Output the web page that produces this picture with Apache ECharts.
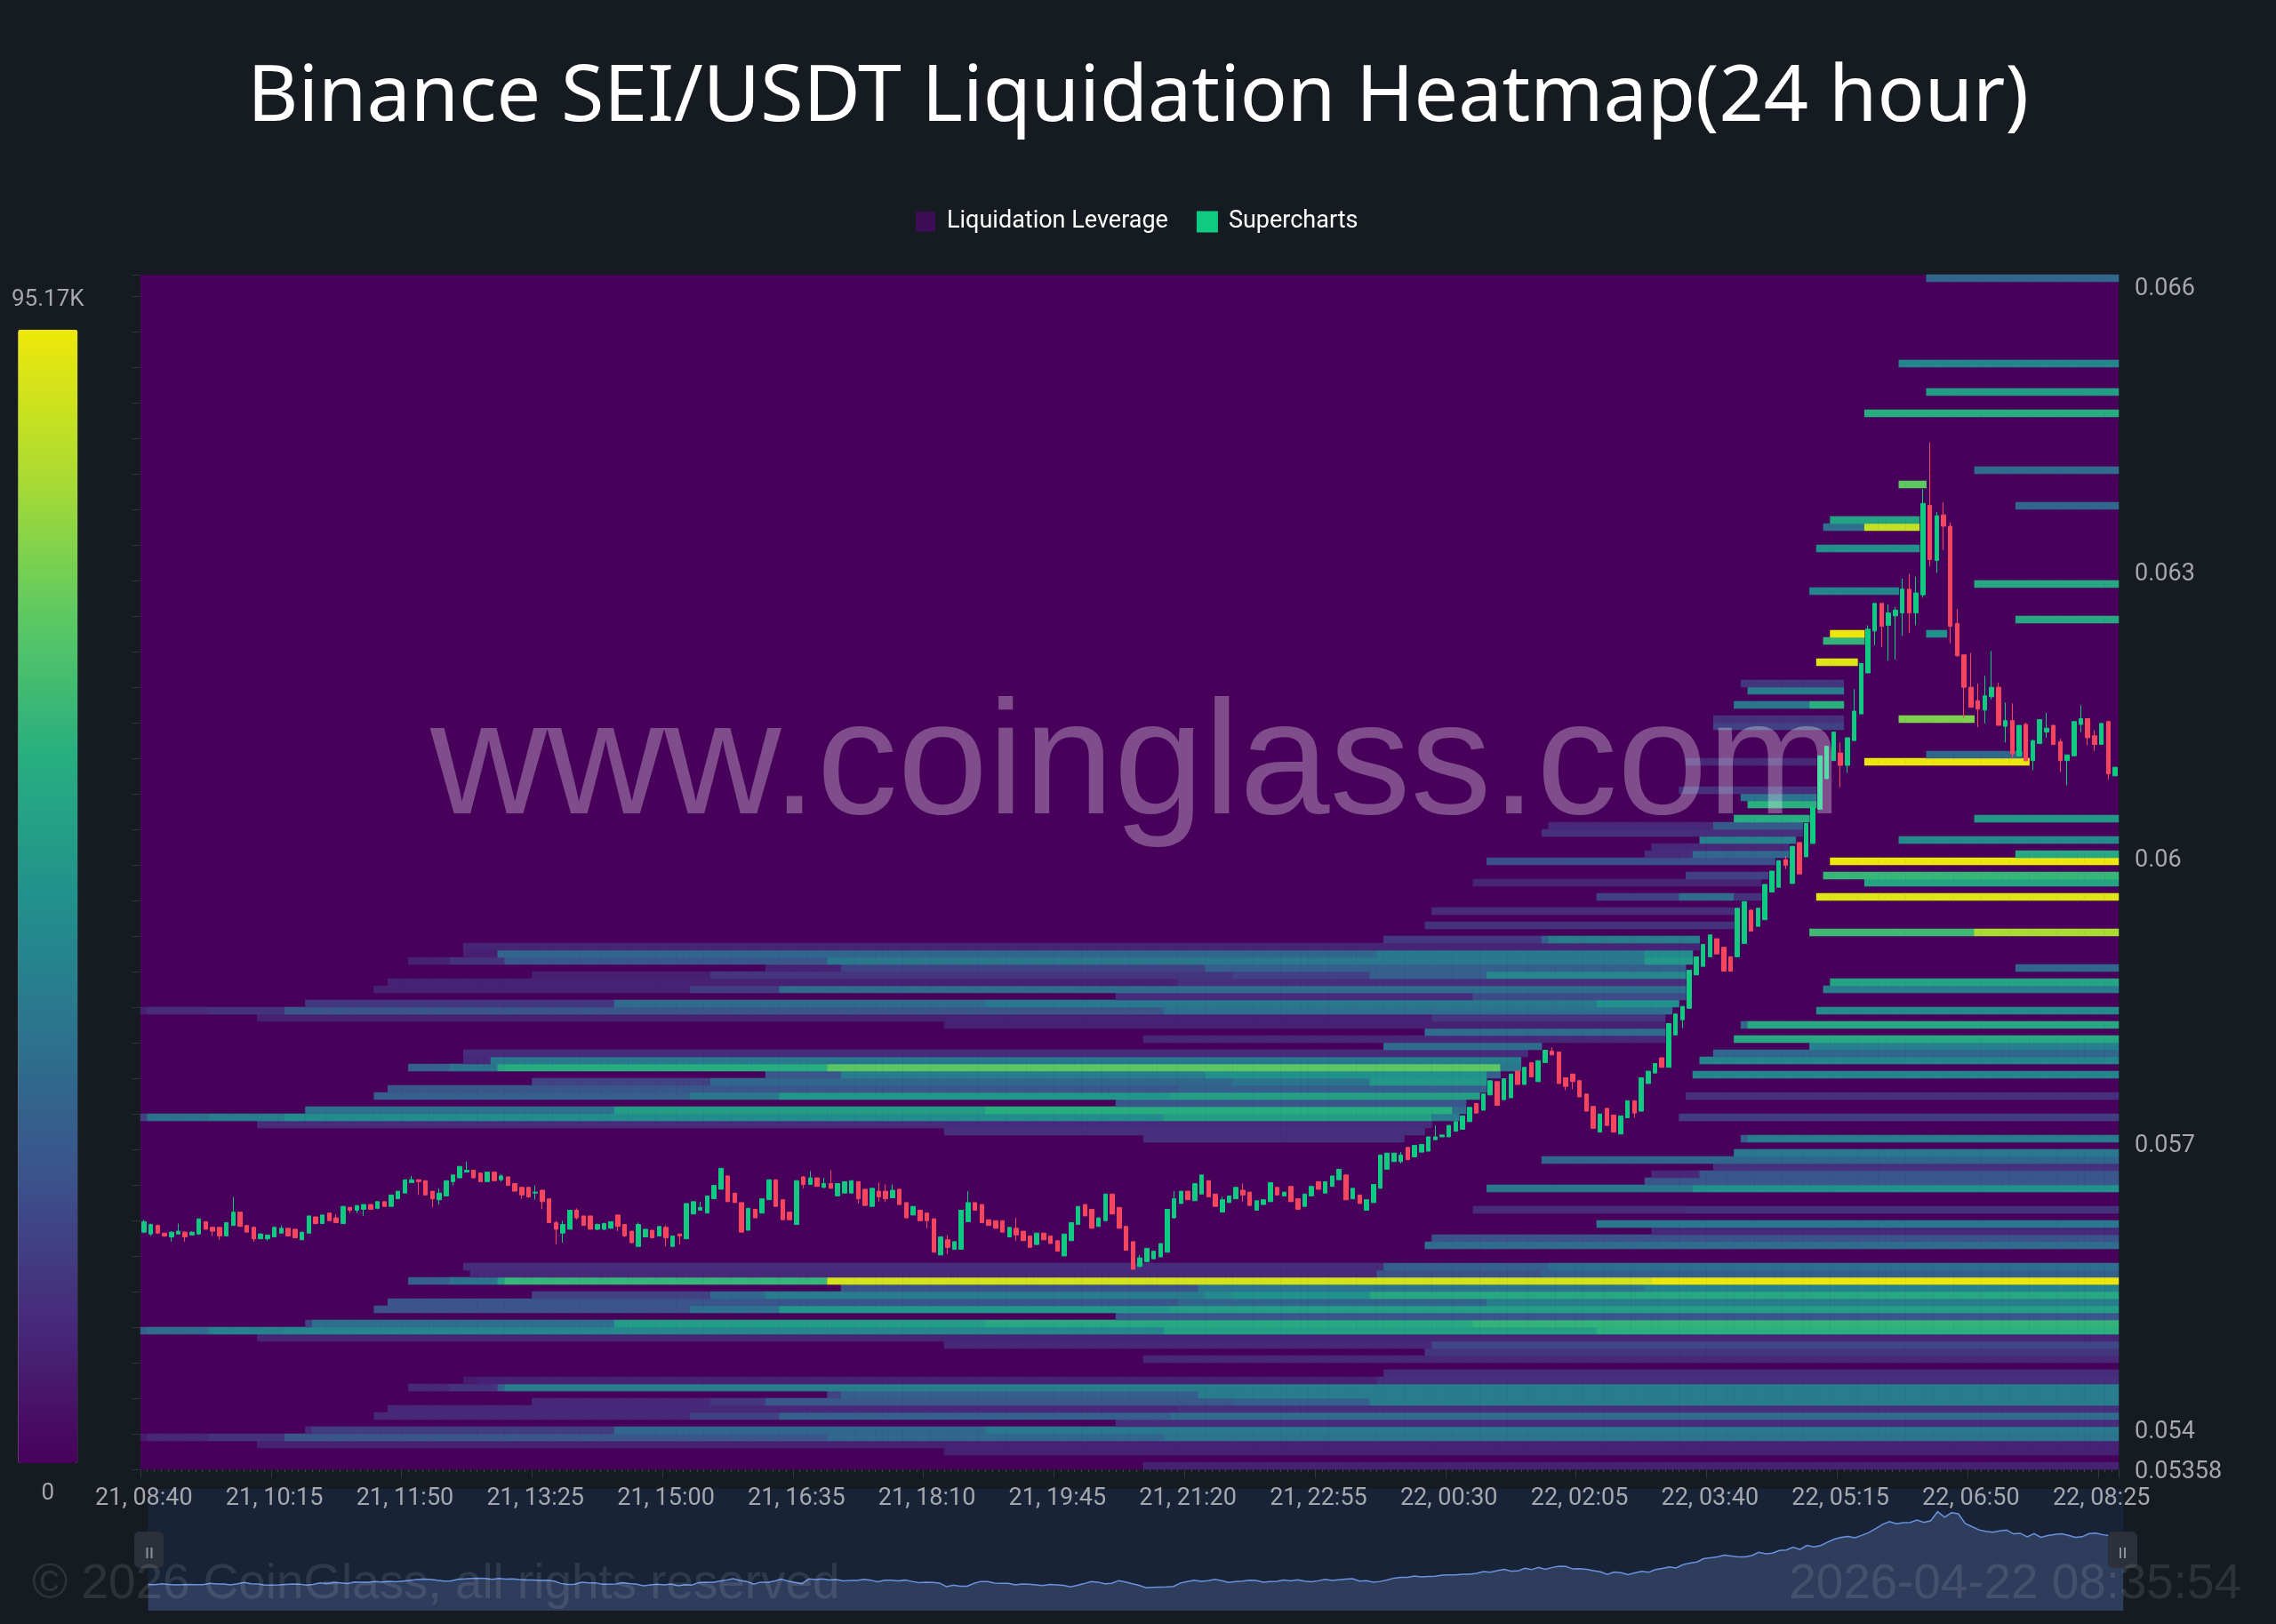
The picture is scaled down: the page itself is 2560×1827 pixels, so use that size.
<!DOCTYPE html>
<html>
<head>
<meta charset="utf-8">
<style>html,body{margin:0;padding:0;background:#161b22}#container{width:2560px;height:1827px}</style>
<script src="https://cdn.jsdelivr.net/npm/echarts@6/dist/echarts.min.js"></script>
</head>
<body>
<div id="container"></div>
<script>
const maxK = 95.17;
const priceMin = 0.05358, priceMax = 0.066121, rowCount = 168;
const priceTicks = [0.05358, 0.054, 0.057, 0.06, 0.063, 0.066];

// [row, t0, pct0, t1, pct1, ..., tEnd]  pct = share of maxK, t = 5 min bar index
const heatBands = [
  [0,146,10,288],[2,117,10,288],[3,17,10,288],
  [4,0,8,1,12,10,15,21,27,100,33,149,38,288],
  [5,24,12,25,18,69,33,123,40,288],[6,142,13,288],
  [7,34,12,80,20,93,30,150,35,288],[8,36,12,151,14,288],
  [9,57,12,83,17,91,27,159,30,179,42,288],[10,100,20,102,30,154,42,288],
  [11,39,12,45,15,52,30,53,42,288],[12,47,8,49,10,180,14,288],[13,181,13,288],
  [15,146,12,288],[16,187,16,288],[17,117,12,188,22,288],[18,17,11,288],
  [19,0,30,1,35,10,43,21,46,149,56,212,63,288],
  [20,24,20,25,36,69,55,123,60,194,65,288],[21,142,27,288],
  [22,34,25,80,37,93,52,150,55,288],[23,36,26,151,32,196,42,288],
  [24,57,20,83,33,91,42,155,47,159,50,179,60,288],[25,102,25,154,38,219,44,288],
  [26,39,30,45,38,52,55,53,66,100,95,220,100,288],
  [27,48,12,180,25,204,30,288],[28,47,13,181,30,205,36,288],
  [31,187,35,288],[32,188,25,288],[33,220,12,288],[34,212,40,288],
  [36,194,13,225,15,288],[39,196,40,226,50,288],[40,219,27,288],
  [41,220,12,227,27,288],[42,229,15,288],[43,204,33,288],[44,232,40,288],
  [46,146,14,184],[46,233,30,234,42,288],
  [47,117,14,187],[48,17,13,188],
  [49,0,20,1,38,10,42,21,48,149,56,188,42,192],[49,224,18,288],
  [50,24,37,69,55,123,62,191,35,193],[51,142,27,193],
  [52,34,30,80,40,93,52,150,56,195],[52,225,14,288],
  [53,36,27,151,30,196],[54,57,20,83,33,159,38,179,53,196],
  [55,91,27,102,42,155,50,196,30,198],[55,226,45,288],
  [56,39,30,45,38,52,60,53,62,100,74,198,40,201],
  [57,47,12,51,40,180,42,201],[57,227,45,288],
  [58,47,13,202],[58,229,33,288],[59,181,35,204],[59,243,43,288],
  [60,146,12,222],[60,232,60,288],[61,187,35,222],
  [62,117,10,222],[62,233,33,234,60,288],[63,17,10,188,16,222],
  [64,0,10,1,13,10,15,21,27,149,36,223],[64,244,47,288],
  [65,24,17,69,35,123,40,212,50,224],[66,142,13,194,23,225],
  [67,34,10,80,18,93,35,225],[67,245,42,288],
  [68,36,10,151,14,225],[68,246,58,288],
  [69,57,9,83,16,159,20,179,30,196,46,225],
  [70,91,10,102,20,155,30,225],[70,273,33,288],
  [71,39,10,45,15,53,27,100,40,219,53,226],
  [72,47,9,52,33,180,40,219,48,226],[73,47,11,227],
  [74,181,17,204,30,205,42,227],[75,243,68,267,87,288],
  [76,187,15,232],[78,188,13,232],
  [80,212,20,224,35,232,15,236],[80,244,97,288],
  [82,194,11,236],[82,251,58,288],[83,225,20,237],[83,245,66,288],
  [85,196,24,238],[85,246,100,288],[86,219,13,226,33,240],[86,273,60,288],
  [87,220,12,240],[88,227,43,241],[88,256,47,288],[89,204,14,242],
  [90,205,12,229,28,242],[91,232,62,243],[91,267,53,288],
  [93,234,63,244],[94,233,38,244],[95,224,14,244],
  [99,225,12,244],[99,251,100,275],[100,260,33,274],
  [104,229,20,248],[105,229,14,248],[105,256,80,267],
  [107,232,40,243,63,248],[109,234,42,248],[110,233,16,248],
  [113,244,97,250],[116,245,65,251],[117,246,100,251],[117,260,50,263],
  [119,273,60,288],[123,243,45,256],[124,267,60,288],[129,244,50,259],
  [132,245,37,251,92,259],[133,246,58,259],[135,273,33,288],
  [138,256,75,260],[140,267,35,288],[148,251,62,288],[151,260,55,288],
  [155,256,45,288],[167,260,33,288]
];

// open, close, low, high in 1e-5 USDT
const candleRows = [
[5607,5618,5606,5620],[5605,5615,5603,5616],[5614,5606,5605,5615],[5606,5603,5602,5606],[5602,5607,5597,5608],
[5605,5608,5605,5616],[5607,5602,5597,5608],[5604,5607,5604,5608],[5605,5621,5604,5621],[5618,5610,5610,5618],
[5612,5608,5603,5613],[5612,5603,5599,5612],[5603,5617,5603,5617],[5614,5628,5614,5644],[5628,5613,5613,5628],
[5614,5607,5607,5614],[5612,5600,5597,5613],[5600,5605,5600,5606],[5600,5604,5598,5604],[5602,5612,5602,5613],
[5606,5611,5606,5614],[5611,5603,5603,5611],[5610,5601,5601,5610],[5599,5607,5599,5607],[5606,5624,5606,5624],
[5623,5616,5615,5623],[5616,5625,5616,5625],[5627,5619,5619,5627],[5622,5617,5617,5626],[5616,5634,5616,5634],
[5633,5630,5627,5633],[5630,5635,5627,5635],[5631,5636,5624,5636],[5636,5631,5631,5636],[5632,5639,5631,5639],
[5639,5634,5634,5639],[5634,5646,5634,5646],[5642,5650,5642,5650],[5648,5662,5648,5662],[5659,5662,5659,5666],
[5662,5660,5646,5662],[5661,5646,5646,5661],[5650,5642,5633,5650],[5641,5648,5636,5653],[5645,5661,5645,5661],
[5660,5667,5656,5667],[5664,5676,5664,5676],[5670,5672,5670,5681],[5672,5664,5664,5672],[5669,5660,5660,5669],
[5660,5670,5660,5670],[5670,5661,5661,5670],[5662,5666,5660,5668],[5665,5656,5656,5665],[5658,5650,5650,5658],
[5654,5646,5642,5654],[5654,5644,5643,5654],[5648,5649,5641,5656],[5651,5639,5631,5651],[5642,5617,5617,5642],
[5617,5610,5594,5619],[5606,5615,5596,5619],[5610,5630,5610,5630],[5630,5622,5620,5632],[5624,5614,5614,5624],
[5624,5610,5610,5624],[5610,5615,5609,5616],[5610,5616,5609,5617],[5611,5618,5611,5618],[5625,5613,5608,5625],
[5615,5603,5602,5615],[5608,5596,5595,5608],[5592,5615,5592,5617],[5602,5610,5602,5610],[5609,5601,5601,5609],
[5603,5613,5603,5613],[5612,5601,5592,5614],[5592,5603,5592,5603],[5605,5603,5594,5605],[5600,5637,5600,5637],
[5626,5639,5626,5639],[5630,5633,5630,5639],[5627,5645,5627,5645],[5642,5656,5642,5656],[5652,5674,5652,5674],
[5666,5639,5639,5666],[5648,5638,5638,5648],[5638,5607,5607,5638],[5609,5632,5609,5632],[5631,5622,5622,5631],
[5627,5642,5627,5642],[5641,5662,5641,5662],[5662,5634,5634,5662],[5641,5620,5620,5641],[5628,5620,5620,5628],
[5615,5661,5615,5661],
[5665,5657,5653,5666],[5657,5664,5657,5671],[5664,5655,5655,5664],[5654,5658,5653,5664],[5658,5653,5653,5672],
[5645,5658,5645,5658],[5648,5660,5648,5660],[5648,5661,5648,5661],[5660,5642,5637,5660],[5652,5635,5635,5652],
[5634,5653,5634,5653],[5650,5644,5639,5659],[5650,5642,5639,5657],[5643,5651,5643,5657],[5652,5636,5636,5652],
[5638,5622,5622,5638],[5625,5634,5625,5634],[5630,5619,5619,5630],[5627,5619,5611,5627],[5621,5586,5586,5621],
[5583,5602,5583,5602],[5599,5591,5584,5604],[5589,5597,5589,5597],[5589,5630,5589,5630],[5618,5638,5618,5650],
[5638,5630,5630,5638],[5636,5617,5617,5636],[5620,5614,5614,5620],[5619,5611,5611,5619],[5619,5607,5607,5619],
[5602,5612,5602,5612],[5611,5604,5598,5622],[5608,5598,5598,5608],[5603,5591,5591,5603],[5594,5606,5594,5606],
[5606,5599,5599,5606],[5603,5595,5595,5603],[5598,5587,5587,5598],[5582,5605,5582,5605],[5598,5617,5598,5617],
[5615,5634,5615,5634],[5636,5624,5624,5636],[5631,5611,5611,5631],[5613,5622,5613,5622],[5619,5647,5619,5647],
[5647,5626,5626,5647],[5633,5611,5611,5633],[5613,5588,5588,5613],[5597,5568,5568,5597],[5571,5580,5570,5583],
[5576,5590,5576,5590],[5579,5587,5579,5587],[5581,5595,5581,5595],[5586,5631,5586,5631],[5622,5642,5621,5650],
[5637,5650,5637,5650],[5650,5641,5641,5650],[5640,5658,5640,5658],[5647,5667,5647,5667],[5661,5644,5644,5661],
[5647,5634,5634,5647],[5628,5641,5628,5644],[5638,5645,5638,5645],[5642,5654,5642,5654],[5651,5646,5639,5658],
[5649,5635,5635,5649],[5630,5640,5630,5640],[5636,5641,5636,5641],[5639,5659,5639,5659],[5654,5646,5646,5654],
[5645,5649,5645,5649],[5655,5639,5639,5655],[5642,5631,5631,5642],[5634,5647,5634,5647],[5645,5655,5645,5655],
[5660,5652,5652,5660],[5648,5660,5648,5660],[5655,5666,5655,5666],[5662,5673,5662,5673],[5667,5641,5641,5667],
[5642,5653,5642,5653],[5646,5637,5637,5646],[5630,5641,5630,5641],[5638,5657,5638,5657],[5653,5688,5653,5688],
[5673,5690,5673,5690],[5681,5690,5681,5690],[5681,5688,5679,5691],[5696,5683,5683,5696],[5686,5698,5686,5698],
[5691,5699,5691,5699],[5692,5707,5692,5707],[5704,5707,5704,5719],[5707,5709,5707,5709],[5707,5719,5707,5719],
[5713,5723,5713,5723],[5715,5729,5715,5729],
[5723,5738,5723,5738],[5742,5732,5732,5742],[5735,5752,5735,5752],[5751,5766,5751,5766],[5765,5740,5740,5765],
[5746,5768,5746,5768],[5748,5773,5748,5773],[5776,5762,5762,5776],[5762,5780,5762,5780],[5785,5770,5770,5785],
[5765,5787,5765,5787],[5785,5798,5785,5798],[5797,5793,5793,5801],[5796,5763,5763,5796],[5769,5760,5756,5769],
[5773,5765,5757,5773],[5766,5749,5749,5766],[5752,5734,5734,5752],[5739,5716,5716,5739],[5712,5731,5712,5731],
[5737,5719,5719,5737],[5730,5712,5712,5730],[5710,5729,5710,5729],[5727,5745,5727,5745],[5745,5732,5727,5745],
[5734,5769,5734,5769],[5763,5776,5763,5776],[5774,5784,5774,5784],[5790,5780,5780,5790],[5780,5826,5780,5826],
[5814,5836,5814,5836],[5830,5844,5821,5844],[5842,5882,5842,5882],[5877,5896,5877,5896],[5886,5909,5886,5909],
[5896,5919,5896,5919],[5915,5899,5899,5915],[5906,5881,5881,5906],[5896,5881,5881,5896],[5896,5947,5896,5947],
[5910,5954,5910,5954],[5945,5923,5923,5945],[5928,5947,5928,5947],[5935,5972,5935,5972],[5964,5986,5964,5986],
[5969,5997,5969,5997],[5998,5992,5988,6002],[5973,6012,5973,6012],[6016,5983,5983,6016],[6001,6036,6001,6036],
[6015,6053,6015,6053],
[6051,6107,6051,6107],[6083,6117,6083,6117],[6102,6132,6102,6132],[6110,6097,6074,6121],[6097,6126,6089,6126],
[6123,6154,6123,6177],[6151,6204,6151,6204],[6194,6240,6194,6244],[6238,6267,6223,6267],[6267,6243,6221,6267],
[6244,6257,6207,6266],[6254,6260,6208,6263],[6257,6282,6233,6293],[6282,6257,6236,6298],[6257,6278,6244,6295],
[6276,6372,6273,6387],[6370,6313,6306,6436],[6312,6359,6299,6363],[6360,6348,6323,6373],[6348,6243,6225,6352],
[6246,6212,6211,6261],[6213,6179,6147,6213],[6179,6158,6158,6215],[6165,6156,6137,6183],[6155,6170,6141,6191],
[6169,6179,6166,6217],[6179,6139,6139,6184],[6138,6144,6121,6163],[6144,6109,6104,6162],[6107,6139,6107,6139],
[6140,6102,6101,6142],[6102,6123,6092,6124],[6120,6145,6120,6145],[6132,6136,6126,6152],[6139,6119,6119,6139],
[6122,6102,6090,6125],[6102,6108,6076,6108],[6107,6143,6107,6143],[6140,6146,6132,6160],[6146,6126,6118,6146],
[6128,6119,6112,6134],[6119,6141,6119,6141],[6143,6088,6082,6144],[6086,6095,6086,6095]
];

const timeLabels = [];
for (let i = 0; i < candleRows.length; i++) {
  let m = 8 * 60 + 40 + i * 5;
  let d = m >= 1440 ? 22 : 21;
  m = m % 1440;
  timeLabels.push(d + ', ' + String(Math.floor(m / 60)).padStart(2, '0') + ':' + String(m % 60).padStart(2, '0'));
}
const rowLevels = [];
for (let r = 0; r < rowCount; r++) rowLevels.push(r);

const heatData = [];
heatBands.forEach(function (b) {
  for (let i = 1; i + 2 < b.length; i += 2) {
    for (let t = b[i]; t < b[i + 2]; t++) {
      heatData.push([t, b[0], b[i + 1] * maxK / 100]);
    }
  }
});
const candleData = candleRows.map(function (c) {
  return c.map(function (v) { return v / 100000; });
});

const labelColor = '#a4a7ab';
const labelFont = 'Roboto';

const option = {
  animation: false,
  backgroundColor: '#161b22',
  title: {
    text: 'Binance SEI/USDT Liquidation Heatmap(24 hour)',
    left: 'center',
    top: 62,
    textStyle: { color: '#fff', fontSize: 88, fontWeight: 'normal', fontFamily: 'Noto Sans' }
  },
  legend: {
    left: 1030,
    top: 236,
    padding: 0,
    itemWidth: 22,
    itemHeight: 22,
    itemGap: 32,
    textStyle: { color: '#fff', fontSize: 27, fontFamily: labelFont, padding: [0, 0, 0, 8] },
    data: [
      { name: 'Liquidation Leverage', icon: 'rect', itemStyle: { color: '#3f0c57' } },
      { name: 'Supercharts', icon: 'rect', itemStyle: { color: '#0ecb81' } }
    ]
  },
  grid: {
    left: 158, right: 177, top: 309, bottom: 174,
    show: true, backgroundColor: '#48015a', borderWidth: 0
  },
  xAxis: [{
    type: 'category',
    data: timeLabels,
    z: 10,
    axisLine: { show: false },
    axisTick: { show: true, interval: 18, length: 10, lineStyle: { color: '#33373e' } },
    axisLabel: {
      interval: function (i) { return i % 19 === 0; },
      color: labelColor, fontSize: 27, fontFamily: labelFont, margin: 20
    },
    splitLine: { show: false }
  }, {
    type: 'category',
    data: timeLabels,
    position: 'bottom',
    axisLine: { show: false },
    axisTick: { show: true, interval: 0, length: 3, lineStyle: { color: '#3c4047' } },
    axisLabel: { show: false },
    splitLine: { show: false }
  }],
  yAxis: [{
    type: 'category',
    data: rowLevels,
    position: 'left',
    axisLine: { show: false },
    axisTick: { show: true, interval: 4, length: 10, lineStyle: { color: '#2c3037' } },
    axisLabel: { show: false },
    splitLine: { show: false }
  }, {
    type: 'value',
    position: 'right',
    min: priceMin,
    max: priceMax,
    z: 10,
    axisLine: { show: false },
    axisTick: { show: false },
    splitLine: { show: false },
    axisLabel: {
      customValues: priceTicks,
      color: labelColor, fontSize: 27, fontFamily: labelFont, margin: 18,
      verticalAlign: 'top', lineHeight: 6,
      formatter: function (v) { return String(v); }
    }
  }],
  visualMap: {
    type: 'continuous',
    seriesIndex: 0,
    min: 0,
    max: maxK,
    calculable: false,
    realtime: false,
    left: 13,
    top: 324,
    padding: 0,
    itemWidth: 67,
    itemHeight: 1275,
    textGap: 21,
    text: ['95.17K', '0'],
    textStyle: { color: labelColor, fontSize: 26, fontFamily: labelFont },
    inRange: {
      color: ['#48015a', '#472a7a', '#3b528b', '#2c728e', '#21918c', '#28ae80', '#5ec962', '#addc30', '#eee80a']
    }
  },
  dataZoom: [{
    type: 'slider',
    xAxisIndex: [0, 1],
    start: 0,
    end: 100,
    left: 164,
    width: 2222,
    top: 1675,
    height: 137,
    z: 2,
    showDetail: false,
    brushSelect: false,
    borderColor: 'transparent',
    backgroundColor: '#182338',
    fillerColor: 'rgba(0,0,0,0)',
    handleIcon: 'path://M5,0 h22 a5,5 0 0 1 5,5 v30 a5,5 0 0 1 -5,5 h-22 a5,5 0 0 1 -5,-5 v-30 a5,5 0 0 1 5,-5 z',
    handleSize: 40,
    handleStyle: { color: '#2c303a', borderColor: '#2c303a' },
    moveHandleSize: 0,
    dataBackground: {
      lineStyle: { color: '#6a92dc', width: 1.5, opacity: 1 },
      areaStyle: { color: '#2f3d5c', opacity: 1 }
    },
    selectedDataBackground: {
      lineStyle: { color: '#6a92dc', width: 1.5, opacity: 1 },
      areaStyle: { color: '#2f3d5c', opacity: 1 }
    }
  }],
  graphic: [
    { type: 'rect', z: 100, shape: { x: 164.5, y: 1741, width: 2, height: 12 }, style: { fill: '#8d9198' } },
    { type: 'rect', z: 100, shape: { x: 169.5, y: 1741, width: 2, height: 12 }, style: { fill: '#8d9198' } },
    { type: 'rect', z: 100, shape: { x: 2384, y: 1741, width: 2, height: 12 }, style: { fill: '#8d9198' } },
    { type: 'rect', z: 100, shape: { x: 2389, y: 1741, width: 2, height: 12 }, style: { fill: '#8d9198' } },
    {
      type: 'text', z: 100, silent: true, x: 1278, y: 865,
      style: {
        text: 'www.coinglass.com', fill: 'rgba(255,255,255,0.3)',
        font: '182px "Liberation Sans"', textAlign: 'center', textVerticalAlign: 'middle'
      }
    },
    {
      type: 'text', z: 100, silent: true, x: 36, y: 1783,
      style: {
        text: '\u00a9 2026 CoinGlass, all rights reserved', fill: 'rgba(255,255,255,0.1)',
        font: '54.8px "Liberation Sans"', textAlign: 'left', textVerticalAlign: 'middle'
      }
    },
    {
      type: 'text', z: 100, silent: true, x: 2521, y: 1783,
      style: {
        text: '2026-04-22 08:35:54', fill: 'rgba(255,255,255,0.1)',
        font: '54.8px "Liberation Sans"', textAlign: 'right', textVerticalAlign: 'middle'
      }
    }
  ],
  series: [{
    name: 'Liquidation Leverage',
    type: 'heatmap',
    xAxisIndex: 0,
    yAxisIndex: 0,
    data: heatData,
    progressive: 0,
    itemStyle: { borderWidth: 0 },
    emphasis: { disabled: true }
  }, {
    name: 'Supercharts',
    type: 'candlestick',
    xAxisIndex: 0,
    yAxisIndex: 1,
    data: candleData,
    barWidth: 5,
    z: 5,
    itemStyle: {
      color: '#0ecb81', color0: '#f6465d',
      borderColor: '#0ecb81', borderColor0: '#f6465d', borderWidth: 1
    }
  }]
};

var myChart = window.echarts.init(document.getElementById('container'), null, { renderer: 'canvas' });
myChart.setOption(option);
</script>
</body>
</html>
